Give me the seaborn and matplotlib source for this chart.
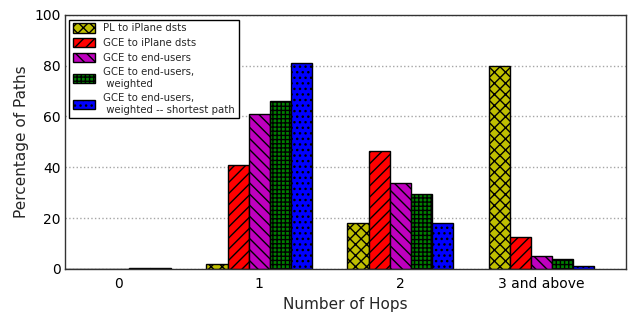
"""Hop-count distribution bar chart."""

import matplotlib

matplotlib.use("Agg")

import matplotlib.pyplot as plt
import pandas as pd
import seaborn as sns


HOPS = ["0", "1", "2", "3 and above"]
SERIES = [
    "PL to iPlane dsts",
    "GCE to iPlane dsts",
    "GCE to end-users",
    "GCE to end-users,\n weighted",
    "GCE to end-users,\n weighted -- shortest path",
]
PL_IPLANE = [0.0, 2.0, 18.0, 80.0]
GCE_IPLANE = [0.0, 41.0, 46.5, 12.5]
GCE_USERS = [0.1, 61.0, 34.0, 5.0]
GCE_USERS_W = [0.3, 66.0, 29.5, 4.0]
GCE_USERS_W_SHORT = [0.3, 81.0, 18.0, 1.0]

COLORS = ["#bfbf00", "#ff0000", "#bf00bf", "#008000", "#0000ff"]
HATCHES = ["xxx", "///", "\\\\\\", "++++", "..."]


def main() -> None:
    values = [PL_IPLANE, GCE_IPLANE, GCE_USERS, GCE_USERS_W, GCE_USERS_W_SHORT]
    rows = []
    for name, vals in zip(SERIES, values):
        for hop, v in zip(HOPS, vals):
            rows.append({"hops": hop, "series": name, "pct": v})
    df = pd.DataFrame(rows)

    sns.set_theme(style="white")
    plt.rcParams["font.family"] = ["DejaVu Sans"]
    plt.rcParams["hatch.linewidth"] = 1.0

    fig = plt.figure(figsize=(6.28, 3.16), dpi=100)
    ax = fig.add_axes([0.104, 0.149, 0.893, 0.804])
    sns.barplot(
        data=df,
        x="hops",
        y="pct",
        hue="series",
        order=HOPS,
        hue_order=SERIES,
        palette=COLORS,
        saturation=1,
        width=0.75,
        edgecolor="black",
        linewidth=1.0,
        errorbar=None,
        ax=ax,
    )
    for container, hatch in zip(ax.containers, HATCHES):
        for bar in container:
            bar.set_hatch(hatch)

    ax.set_ylim(0, 100)
    ax.set_xlim(-0.375, 3.6)
    ax.set_yticks([0, 20, 40, 60, 80, 100])
    ax.yaxis.grid(True, linestyle=":", color="0.65", linewidth=1.0)
    ax.set_axisbelow(True)
    ax.set_xlabel("Number of Hops", fontsize=11)
    ax.set_ylabel("Percentage of Paths", fontsize=11)
    ax.tick_params(axis="both", labelsize=10, direction="in", length=4, width=0.8,
                   colors="black")
    ax.tick_params(axis="x", length=0, pad=6)
    for spine in ax.spines.values():
        spine.set_color("0.2")
        spine.set_linewidth(1.0)

    fs = 7.3
    leg = ax.legend(
        handles=ax.containers,
        labels=SERIES,
        loc="upper left",
        bbox_to_anchor=(-0.002, 1.0),
        fontsize=fs,
        frameon=True,
        fancybox=False,
        edgecolor="black",
        framealpha=1.0,
        handlelength=2.2,
        handleheight=1.0,
        labelspacing=0.45,
        borderpad=0.35,
        handletextpad=0.8,
    )
    leg.get_frame().set_linewidth(1.0)
    # push the swatches of the two-line labels down to sit between the lines
    for column in leg._legend_handle_box.get_children():
        for item, label in zip(column.get_children(), SERIES):
            if "\n" in label:
                item.get_children()[0].ydescent += 0.5 * fs

    fig.savefig("out.png", dpi=100)
    plt.close(fig)


if __name__ == "__main__":
    main()
